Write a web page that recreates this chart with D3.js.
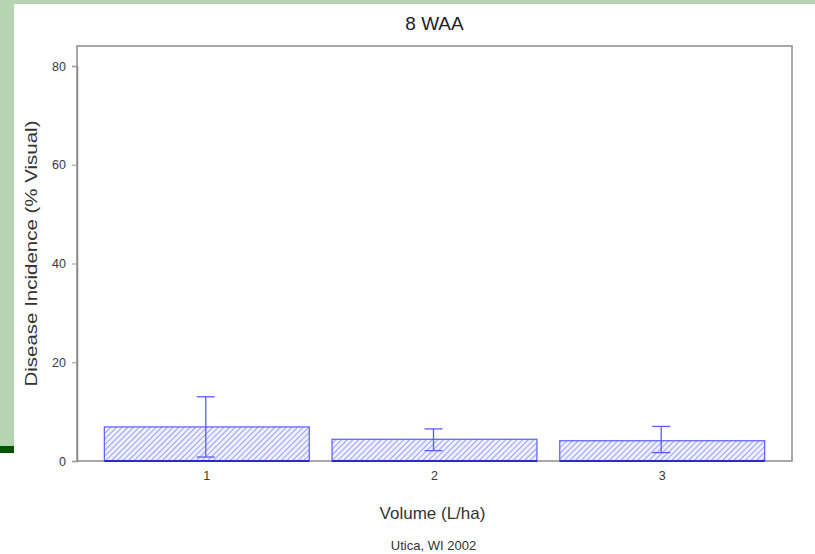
<!DOCTYPE html>
<html lang="en">
<head>
  <meta charset="UTF-8">
  <title>8 WAA</title>
  <style>
    body { margin: 0; background: #fff; }
    svg { display: block; font-family: 'Liberation Sans', Arial, sans-serif; }
    .tick-label { fill: #3a3a3a; font-size: 12.5px; }
  </style>
</head>
<body>
  <svg width="815" height="554"></svg>
  <script src="https://cdn.jsdelivr.net/npm/d3@7"></script>
  <script>
    // data
    var volumes = ['1', '2', '3']
    var means = [6.9, 4.4, 4.1]
    var upper = [13.0, 6.5, 7.0]
    var lower = [0.8, 2.1, 1.7]
    var yTicks = [0, 20, 40, 60, 80]

    var svg = d3.select('svg')
    var plotLeft = 77, plotRight = 792, plotTop = 46, plotBottom = 461

    // slide background: green strip at top and left
    svg.append('rect').attr('x', 0).attr('y', 0).attr('width', 815).attr('height', 4).attr('fill', '#b6d3b2')
    svg.append('rect').attr('x', 0).attr('y', 0).attr('width', 14).attr('height', 446).attr('fill', '#b6d3b2')
    svg.append('rect').attr('x', 0).attr('y', 446).attr('width', 14).attr('height', 7).attr('fill', '#005400')

    var defs = svg.append('defs')
    var pat = defs.append('pattern')
      .attr('id', 'hatch')
      .attr('patternUnits', 'userSpaceOnUse')
      .attr('width', 4).attr('height', 4)
      .attr('patternTransform', 'rotate(45)')
    pat.append('rect').attr('width', 4).attr('height', 4).attr('fill', '#eef0ff')
    pat.append('line').attr('x1', 0).attr('y1', 0).attr('x2', 0).attr('y2', 4)
      .attr('stroke', '#8a8cff').attr('stroke-width', 1.6)

    var x = d3.scaleBand().domain(volumes).range([plotLeft, plotRight]).paddingInner(0.1).paddingOuter(0.12)
    var y = d3.scaleLinear().domain([0, 80]).range([plotBottom, 66])

    // frame
    svg.append('rect')
      .attr('x', plotLeft).attr('y', plotTop)
      .attr('width', plotRight - plotLeft).attr('height', plotBottom - plotTop)
      .attr('fill', 'none').attr('stroke', '#8c8c8c').attr('stroke-width', 1.5)

    // y axis
    var yAxis = svg.append('g')
      .attr('transform', 'translate(' + plotLeft + ',0)')
      .call(d3.axisLeft(y).tickValues(yTicks).tickSize(5).tickPadding(6))
    yAxis.select('.domain').attr('stroke', '#8c8c8c').attr('stroke-width', 1.5)
    yAxis.selectAll('.tick line').attr('stroke', '#999')
    yAxis.selectAll('.tick text').attr('class', 'tick-label').attr('font-size', null).attr('font-family', null)

    // x axis labels (no tick marks)
    var xAxis = svg.append('g')
      .attr('transform', 'translate(0,' + plotBottom + ')')
      .call(d3.axisBottom(x).tickSize(0).tickPadding(10))
    xAxis.select('.domain').remove()
    xAxis.selectAll('.tick text').attr('class', 'tick-label').attr('font-size', null).attr('font-family', null)

    var data = volumes.map(function(v, i) {
      return { v: v, mean: means[i], hi: upper[i], lo: lower[i] }
    })

    // bars
    svg.selectAll('.bar')
      .data(data)
      .enter()
      .append('rect')
      .attr('class', 'bar')
      .attr('x', function(d) { return x(d.v) })
      .attr('y', function(d) { return y(d.mean) })
      .attr('width', x.bandwidth())
      .attr('height', function(d) { return plotBottom - y(d.mean) })
      .attr('fill', 'url(#hatch)')
      .attr('stroke', '#5a5cff')
      .attr('stroke-width', 1.2)

    // darker base line of each bar
    svg.selectAll('.base')
      .data(data)
      .enter()
      .append('line')
      .attr('x1', function(d) { return x(d.v) })
      .attr('x2', function(d) { return x(d.v) + x.bandwidth() })
      .attr('y1', plotBottom).attr('y2', plotBottom)
      .attr('stroke', '#2a2ad0').attr('stroke-width', 2)

    // error bars
    var err = svg.selectAll('.err')
      .data(data)
      .enter()
      .append('g')
      .attr('class', 'err')
      .attr('stroke', '#5a5cff')
      .attr('stroke-width', 1.3)
    var cx = function(d) { return x(d.v) + x.bandwidth() / 2 - 1 }
    err.append('line')
      .attr('x1', cx).attr('x2', cx)
      .attr('y1', function(d) { return y(d.hi) })
      .attr('y2', function(d) { return y(d.lo) })
    err.append('line')
      .attr('x1', function(d) { return cx(d) - 9 }).attr('x2', function(d) { return cx(d) + 9 })
      .attr('y1', function(d) { return y(d.hi) }).attr('y2', function(d) { return y(d.hi) })
    err.append('line')
      .attr('x1', function(d) { return cx(d) - 9 }).attr('x2', function(d) { return cx(d) + 9 })
      .attr('y1', function(d) { return y(d.lo) }).attr('y2', function(d) { return y(d.lo) })

    var mid = (plotLeft + plotRight) / 2

    // titles
    svg.append('text')
      .attr('x', mid).attr('y', 30)
      .attr('text-anchor', 'middle')
      .attr('font-size', '19px').attr('fill', '#222')
      .text('8 WAA')

    svg.append('text')
      .attr('x', mid - 2).attr('y', 519)
      .attr('text-anchor', 'middle')
      .attr('font-size', '17px').attr('fill', '#333')
      .text('Volume (L/ha)')

    svg.append('text')
      .attr('x', mid - 1).attr('y', 550)
      .attr('text-anchor', 'middle')
      .attr('font-size', '13px').attr('fill', '#333')
      .text('Utica, WI 2002')

    svg.append('text')
      .attr('transform', 'translate(37,' + (plotTop + plotBottom) / 2 + ') rotate(-90)')
      .attr('text-anchor', 'middle')
      .attr('font-size', '17px').attr('fill', '#333')
      .attr('textLength', 266).attr('lengthAdjust', 'spacingAndGlyphs')
      .text('Disease Incidence (% Visual)')
  </script>
</body>
</html>
